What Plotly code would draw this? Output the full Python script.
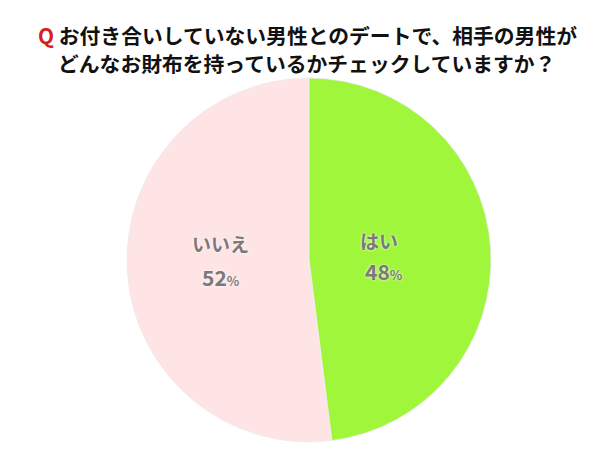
import plotly.graph_objects as go

labels = ["はい", "いいえ"]
values = [48, 52]
colors = ["#a0f63a", "#fee4e4"]
title_lines = ["お付き合いしていない男性とのデートで、相手の男性が", "どんなお財布を持っているかチェックしていますか？"]

W, H = 615, 462
OFF = 8  # page body margin compensation
cx, cy, r = 309 - OFF, 260 - OFF, 182


def px(x):
    return (x - OFF) / W


def py(y):
    return 1 - (y - OFF) / H


fig = go.Figure(go.Pie(
    labels=labels, values=values, sort=False, direction="clockwise", rotation=0,
    marker=dict(colors=colors, line=dict(color="#ececec", width=0.8)),
    textinfo="none", hoverinfo="label+percent", showlegend=False,
    domain=dict(x=[(cx - r) / W, (cx + r) / W], y=[1 - (cy + r) / H, 1 - (cy - r) / H]),
))

shadow = "0px 0px 3px white"
lab_font = dict(family="Noto Sans CJK JP", size=19, color="#7a7a7a", weight="bold", shadow=shadow)
num_font = dict(family="Noto Sans CJK JP", size=21, color="#7a7a7a", weight="bold", shadow=shadow)
pos = {"はい": (379, 240, 384, 271), "いいえ": (220, 243, 221, 277)}
for lab, v in zip(labels, values):
    lx, ly, nx, ny = pos[lab]
    fig.add_annotation(x=px(lx), y=py(ly), xref="paper", yref="paper", text=f"<b>{lab}</b>",
                       xanchor="center", yanchor="middle", showarrow=False, font=lab_font)
    fig.add_annotation(x=px(nx), y=py(ny), xref="paper", yref="paper",
                       text=f"<b>{v}</b><span style='font-size:13px'>%</span>",
                       xanchor="center", yanchor="middle", showarrow=False, font=num_font)

tfont = dict(family="Noto Sans CJK JP", size=20.8, color="#111111", weight="bold")
fig.add_annotation(x=px(307), y=py(35), xref="paper", yref="paper",
                   text=f"<span style='color:#d42020'>Q</span> {title_lines[0]}",
                   xanchor="center", yanchor="middle", showarrow=False, font=tfont)
fig.add_annotation(x=px(306), y=py(63), xref="paper", yref="paper",
                   text=title_lines[1], xanchor="center", yanchor="middle",
                   showarrow=False, font=tfont)

fig.update_layout(width=W, height=H, margin=dict(l=0, r=0, t=0, b=0),
                  paper_bgcolor="white", plot_bgcolor="white")
fig.write_html("out.html")
